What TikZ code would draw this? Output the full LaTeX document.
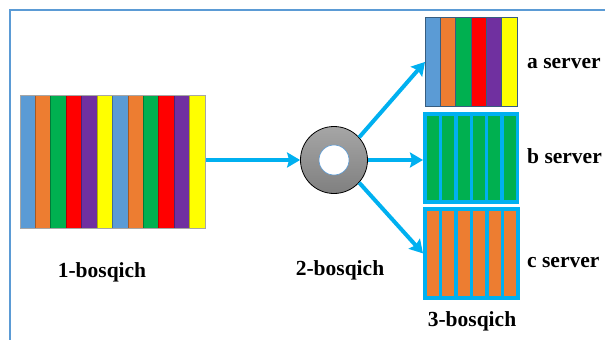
\documentclass[tikz,border=0pt]{standalone}
\usepackage{fontspec}
\setmainfont{Liberation Serif}
\usetikzlibrary{arrows.meta}

\definecolor{sblue}{HTML}{5B9BD5}
\definecolor{sorange}{HTML}{ED7D31}
\definecolor{sgreen}{HTML}{00B050}
\definecolor{sred}{HTML}{FF0000}
\definecolor{spurple}{HTML}{7030A0}
\definecolor{syellow}{HTML}{FFFF00}
\definecolor{scyan}{HTML}{00B0F0}

\tikzset{
  flow/.style={draw=scyan, line width=4pt, -{Stealth[length=13pt,width=15pt,inset=2pt]}},
  blk/.style={draw=#1, line width=0.8pt, inner sep=0pt, anchor=north west},
  lbl/.style={font=\fontsize{21.5}{25}\selectfont\bfseries, anchor=base, inner sep=0pt},
}

\begin{document}
\begin{tikzpicture}[x=1pt, y=-1pt]
\useasboundingbox (0,0) rectangle (605,340);
% Rahmen
\draw[sblue, line width=2pt] (605,10) -- (10,10) -- (10,340);

% 1-bosqich: 12 Streifen
\node[blk=gray!70, minimum width=185pt, minimum height=133pt] (block1) at (20,95) {};
\foreach \c [count=\i from 0] in {sblue,sorange,sgreen,sred,spurple,syellow,sblue,sorange,sgreen,sred,spurple,syellow}
  \draw[fill=\c, draw=\c!70!black, line width=0.7pt] ({20+\i*15.42},95) rectangle ++(15.42,133);
\draw[gray!70, line width=0.8pt] (block1.north west) rectangle (block1.south east);

% 2-bosqich: Scheibe
\node[circle, draw=black, line width=0.8pt, minimum size=67pt, top color=black!35, bottom color=black!50] (disk) at (334,160) {};
\node[circle, fill=white, draw=sblue, line width=0.6pt, minimum size=30pt] (hole) at (disk.center) {};

% a server
\node[blk=sblue!60!black, minimum width=92pt, minimum height=89pt] (blocka) at (425,17) {};
\foreach \c [count=\i from 0] in {sblue,sorange,sgreen,sred,spurple,syellow}
  \draw[fill=\c, draw=sblue!60!black, line width=0.7pt] ({425+\i*15.33},17) rectangle ++(15.33,89);

% b server
\node[blk=scyan, fill=scyan, minimum width=95pt, minimum height=91pt] (blockb) at (423,112) {};
\foreach \i in {0,...,5}
  \fill[sgreen] ({427+\i*15.3},116) rectangle ++(12,84);

% c server
\node[blk=scyan, fill=scyan, minimum width=96pt, minimum height=92pt] (blockc) at (423,207) {};
\foreach \i in {0,...,5}
  \fill[sorange] ({427+\i*15.4},211) rectangle ++(12,85);

% Pfeile
\draw[flow] (block1.east |- disk.west) -- (disk.west);
\draw[flow] (disk.42) -- (blocka.west);
\draw[flow] (disk.east) -- (disk.east -| blockb.west);
\draw[flow] (disk.-42) -- (blockc.west);

% Beschriftungen
\node[lbl] (l1) at (102,277) {1-bosqich};
\node[lbl] (l2) at (340,275) {2-bosqich};
\node[lbl] (l3) at (472,326) {3-bosqich};
\node[lbl, anchor=base west] (la) at (527,68) {a server};
\node[lbl, anchor=base west] (lb) at (527,163) {b server};
\node[lbl, anchor=base west] (lc) at (527,267) {c server};
\end{tikzpicture}
\end{document}
